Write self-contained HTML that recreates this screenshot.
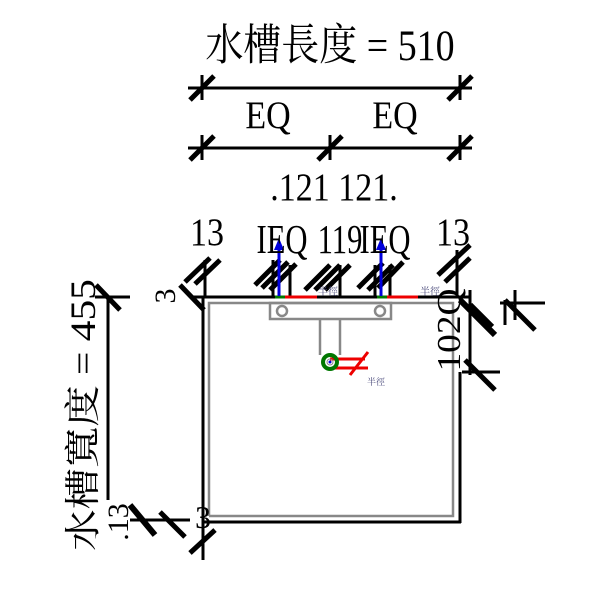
<!DOCTYPE html>
<html><head><meta charset="utf-8"><style>
body{margin:0;background:#fff}
svg{display:block}
text{font-family:"Liberation Serif","Noto Serif CJK SC",serif;fill:#000}
</style></head><body>
<svg width="600" height="600" viewBox="0 0 600 600" xmlns="http://www.w3.org/2000/svg">
<g stroke="#000" stroke-width="3" fill="none">
<line x1="188" y1="88" x2="472" y2="88"/>
<line x1="202" y1="75" x2="202" y2="100"/><line x1="460" y1="75" x2="460" y2="100"/>
<line x1="190" y1="100" x2="214" y2="76" stroke-width="5"/><line x1="448" y1="100" x2="472" y2="76" stroke-width="5"/>
<line x1="188" y1="148" x2="472" y2="148"/>
<line x1="202" y1="135" x2="202" y2="160"/><line x1="330" y1="135" x2="330" y2="160"/><line x1="460" y1="135" x2="460" y2="160"/>
<line x1="190" y1="160" x2="214" y2="136" stroke-width="5"/><line x1="318" y1="160" x2="342" y2="136" stroke-width="5"/><line x1="448" y1="160" x2="472" y2="136" stroke-width="5"/>
<line x1="190" y1="297" x2="470" y2="297"/>
<line x1="203" y1="297" x2="203" y2="523"/>
<line x1="202" y1="522" x2="461" y2="522"/>
<line x1="460" y1="372" x2="460" y2="523"/>
<line x1="108" y1="297" x2="108" y2="500"/>
<line x1="95" y1="297" x2="130" y2="297"/>
<line x1="96" y1="285" x2="120" y2="310" stroke-width="5"/>
<line x1="180" y1="285" x2="204" y2="310" stroke-width="5"/>
<line x1="130" y1="520" x2="190" y2="520"/>
<line x1="130" y1="505" x2="155" y2="535" stroke-width="6"/>
<line x1="160" y1="512" x2="185" y2="537" stroke-width="5"/>
<line x1="190" y1="553" x2="215" y2="530" stroke-width="5"/>
<line x1="203" y1="523" x2="203" y2="560"/>
<g stroke-width="5">
<line x1="185" y1="282" x2="210" y2="258"/><line x1="195" y1="284" x2="220" y2="260"/>
<line x1="255" y1="285" x2="280" y2="260"/><line x1="262" y1="288" x2="288" y2="262"/><line x1="270" y1="290" x2="296" y2="264"/>
<line x1="305" y1="290" x2="330" y2="265"/><line x1="315" y1="290" x2="340" y2="265"/><line x1="325" y1="290" x2="350" y2="265"/>
<line x1="358" y1="288" x2="383" y2="263"/><line x1="368" y1="290" x2="393" y2="265"/><line x1="378" y1="288" x2="403" y2="262"/>
<line x1="438" y1="275" x2="470" y2="245"/><line x1="445" y1="282" x2="470" y2="258"/>
</g>
<line x1="205" y1="260" x2="205" y2="297"/><line x1="273" y1="260" x2="273" y2="297"/><line x1="290" y1="265" x2="290" y2="297"/>
<line x1="340" y1="265" x2="340" y2="297"/><line x1="375" y1="265" x2="375" y2="297"/><line x1="390" y1="265" x2="390" y2="297"/>
<line x1="457" y1="250" x2="457" y2="297"/>
<line x1="470" y1="290" x2="470" y2="375"/>
<line x1="462" y1="372" x2="500" y2="372"/>
<line x1="465" y1="360" x2="495" y2="390" stroke-width="5"/>
<line x1="460" y1="300" x2="495" y2="335" stroke-width="6"/>
<line x1="470" y1="305" x2="492" y2="327" stroke-width="6"/>
<line x1="505" y1="300" x2="535" y2="330" stroke-width="5"/>
<line x1="505" y1="300" x2="505" y2="325"/><line x1="500" y1="303" x2="545" y2="303"/>
<line x1="515" y1="290" x2="515" y2="320"/>
</g>
<g stroke="#888" stroke-width="2.5" fill="none">
<polyline points="209,516 209,303 453,303 453,516 209,516"/>
<rect x="270" y="303" width="121" height="16"/>
<circle cx="282" cy="311" r="5"/><circle cx="380" cy="311" r="5"/>
<line x1="320" y1="319" x2="320" y2="355"/><line x1="340" y1="319" x2="340" y2="355"/>
</g>
<g fill="none">
<line x1="285" y1="297" x2="317" y2="297" stroke="#e00" stroke-width="3"/>
<line x1="387" y1="297" x2="418" y2="297" stroke="#e00" stroke-width="3"/>
<line x1="275" y1="297" x2="285" y2="297" stroke="#070" stroke-width="3"/>
<line x1="377" y1="297" x2="387" y2="297" stroke="#070" stroke-width="3"/>
<line x1="279" y1="296" x2="279" y2="248" stroke="#00d" stroke-width="3"/>
<line x1="381" y1="296" x2="381" y2="248" stroke="#00d" stroke-width="3"/>
<line x1="330" y1="359" x2="365" y2="359" stroke="#e00" stroke-width="3"/>
<line x1="333" y1="368" x2="368" y2="368" stroke="#e00" stroke-width="3"/>
<line x1="350" y1="375" x2="368" y2="352" stroke="#e00" stroke-width="3"/>
<circle cx="330" cy="362" r="7" stroke="#070" stroke-width="4"/>
<circle cx="330" cy="362" r="3" stroke="#888" stroke-width="1"/>
</g>
<circle cx="330" cy="362" r="1.5" fill="#00d"/>
<polygon points="279,238 274,250 284,250" fill="#00d"/>
<polygon points="381,238 376,250 386,250" fill="#00d"/>
<g transform="translate(330 60) scale(1,1.15)"><text font-size="38" text-anchor="middle">水槽長度 = 510</text></g>
<g transform="translate(268 128) scale(1,1.15)"><text font-size="34" text-anchor="middle">EQ</text></g>
<g transform="translate(395 128) scale(1,1.15)"><text font-size="34" text-anchor="middle">EQ</text></g>
<g transform="translate(300 200) scale(1,1.15)"><text font-size="34" text-anchor="middle">.121</text></g>
<g transform="translate(368 200) scale(1,1.15)"><text font-size="34" text-anchor="middle">121.</text></g>
<g transform="translate(207 245) scale(1,1.15)"><text font-size="34" text-anchor="middle">13</text></g>
<g transform="translate(453 245) scale(1,1.15)"><text font-size="34" text-anchor="middle">13</text></g>
<g transform="translate(282 253) scale(0.85,1.15)"><text font-size="36" text-anchor="middle">IEQ</text></g>
<g transform="translate(340 253) scale(0.85,1.15)"><text font-size="36" text-anchor="middle">119</text></g>
<g transform="translate(385 253) scale(0.85,1.15)"><text font-size="36" text-anchor="middle">IEQ</text></g>
<text x="318" y="295" font-size="10" style="fill:#447">半徑</text>
<text x="420" y="295" font-size="10" style="fill:#447">半徑</text>
<text x="367" y="385" font-size="9" style="fill:#447">半徑</text>
<text transform="translate(175 296) rotate(-90)" font-size="30" text-anchor="middle">3</text>
<text x="195" y="528" font-size="32">3</text>
<text transform="translate(95 415) rotate(-90) scale(1.15,1)" font-size="36" text-anchor="middle">水槽寬度 = 455</text>
<text transform="translate(128 522) rotate(-90)" font-size="30" text-anchor="middle">.13</text>
<text transform="translate(460 330) rotate(-90) scale(1.1,1)" font-size="34" text-anchor="middle">102Q</text>
</svg>
</body></html>
